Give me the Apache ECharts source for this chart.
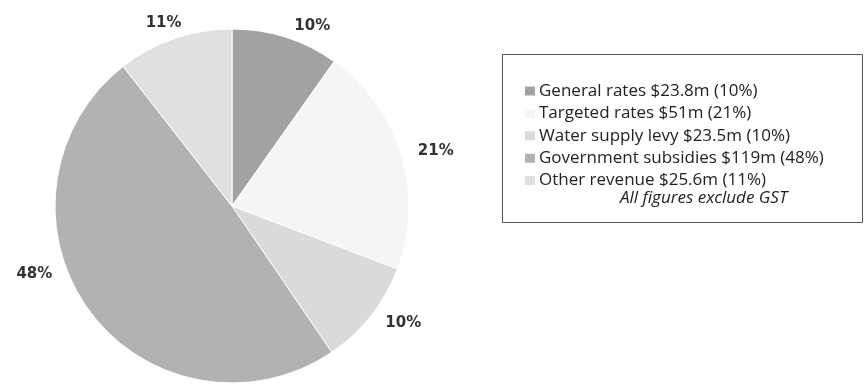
<!DOCTYPE html>
<html>
<head>
<meta charset="utf-8">
<script src="https://cdn.jsdelivr.net/npm/echarts@6/dist/echarts.min.js"></script>
<style>
html,body{margin:0;padding:0;background:#fff;}
#c{width:865px;height:389px;}
</style>
</head>
<body>
<div id="c"></div>
<script>
var categories = ["General rates", "Targeted rates", "Water supply levy", "Government subsidies", "Other revenue"];
var amounts = [23.8, 51, 23.5, 119, 25.6];
var amountLabels = ["$23.8m", "$51m", "$23.5m", "$119m", "$25.6m"];
var percentLabels = ["10%", "21%", "10%", "48%", "11%"];
var colors = ["#a2a2a2", "#f5f5f5", "#dadada", "#b2b2b2", "#e0e0e0"];
var labelNudges = [[0, 0], [0, 0], [0, 0], [-22, -43], [16, -4]];
var footnote = "All figures exclude GST";

var chart = echarts.init(document.getElementById('c'), null, {renderer: 'canvas'});
var data = categories.map(function (n, i) {
  return {name: n, value: amounts[i], itemStyle: {color: colors[i]}, label: {offset: labelNudges[i]}};
});
var option = {
  backgroundColor: '#ffffff',
  animation: false,
  legend: {
    orient: 'vertical',
    left: 518,
    top: 77,
    itemWidth: 12,
    itemHeight: 11,
    itemGap: 4.4,
    icon: 'rect',
    textStyle: {fontFamily: 'Open Sans', fontSize: 17, color: '#222', lineHeight: 18, padding: [0, 0, 0, -2]},
    formatter: function (name) {
      var i = categories.indexOf(name);
      return name + ' ' + amountLabels[i] + ' (' + percentLabels[i] + ')';
    },
    data: categories
  },
  graphic: [
    {type: 'rect', shape: {x: 502.5, y: 54.5, width: 360, height: 168}, style: {fill: 'none', stroke: '#555', lineWidth: 1}, z: -1},
    {type: 'text', left: 620, top: 190, style: {text: footnote, font: 'italic 17px "Open Sans"', fill: '#222'}}
  ],
  series: [{
    type: 'pie',
    center: [232, 206],
    radius: [0, 177],
    startAngle: 90,
    clockwise: true,
    data: data,
    itemStyle: {borderColor: '#ffffff', borderWidth: 1},
    label: {
      show: true,
      position: 'outside',
      fontFamily: 'DejaVu Sans',
      fontSize: 15,
      fontWeight: 'bold',
      color: '#333',
      formatter: function (p) { return percentLabels[p.dataIndex]; }
    },
    labelLine: {show: false, length: 12, length2: 0},
    emphasis: {disabled: true}
  }]
};
chart.setOption(option);
</script>
</body>
</html>
